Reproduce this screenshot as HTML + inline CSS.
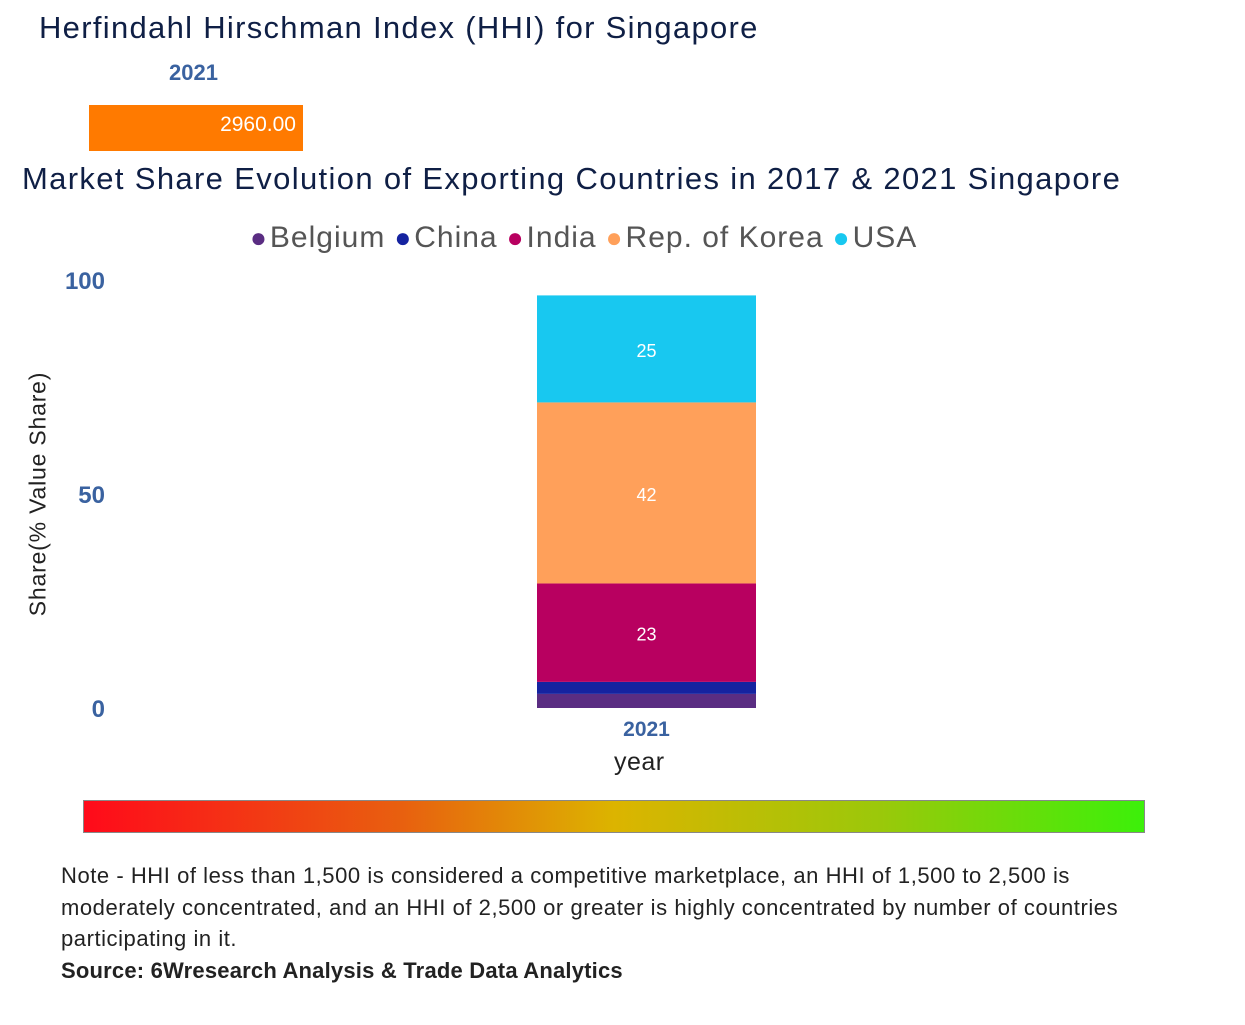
<!DOCTYPE html>
<html><head><meta charset="utf-8"><style>
body{margin:0;width:1245px;height:1025px;background:#fff;font-family:"Liberation Sans",sans-serif;position:relative;overflow:hidden}
.a{position:absolute}
</style></head><body>
<div class="a" style="left:39px;top:10px;font-size:31px;color:#0f1f45;letter-spacing:1.3px">Herfindahl Hirschman Index (HHI) for Singapore</div>
<div class="a" style="left:169px;top:60px;font-size:22px;font-weight:bold;color:#3a62a0">2021</div>
<div class="a" style="left:89px;top:105px;width:214px;height:46px;background:#ff7a00;color:#fff;font-size:21px;text-align:right;box-sizing:border-box;padding-right:7px;line-height:40px">2960.00</div>
<div class="a" style="left:22px;top:161px;font-size:31px;color:#0f1f45;letter-spacing:1.35px">Market Share Evolution of Exporting Countries in 2017 &amp; 2021 Singapore</div>
<div class="a" id="legend" style="left:250px;top:221px;font-size:30px;color:#555;white-space:nowrap;letter-spacing:1px"></div>
<div class="a" style="left:38px;top:494px;transform:translate(-50%,-50%) rotate(-90deg);font-size:23px;color:#222;white-space:nowrap;letter-spacing:0.8px">Share(% Value Share)</div>
<svg class="a" style="left:0;top:0" width="1245" height="800" id="chart"></svg>
<div class="a" style="left:614px;top:748px;font-size:25px;color:#222;letter-spacing:0.5px">year</div>
<div class="a" style="left:83px;top:800px;width:1060px;height:31px;border:1px solid #888;background:linear-gradient(to right,#ff0a1a,#e8600f 30%,#dcb400 50%,#9bc80a 75%,#3cf00a)"></div>
<div class="a" style="left:61px;top:860px;width:1110px;font-size:22px;line-height:31.5px;color:#222;letter-spacing:0.55px">Note - HHI of less than 1,500 is considered a competitive marketplace, an HHI of 1,500 to 2,500 is moderately concentrated, and an HHI of 2,500 or greater is highly concentrated by number of countries participating in it.<br><b style="letter-spacing:0.2px">Source: 6Wresearch Analysis &amp; Trade Data Analytics</b></div>
<script>
const categories=["2021"];
const countries=["Belgium","China","India","Rep. of Korea","USA"];
const colors=["#5a2d82","#1523a0","#b80060","#ffa05a","#18c8f0"];
const values=[[3.3],[2.8],[23],[42.3],[25]];
const labels=["","","23","42","25"];
const yTicks=[0,50,100];
const svg=document.getElementById('chart');
const NS='http://www.w3.org/2000/svg';
const y0=708,pxPer=4.28;
const y=v=>y0-v*pxPer;
const xLeft=537,bw=219;
const lg=document.getElementById('legend');
countries.forEach((c,i)=>{const s=document.createElement('span');


s.style.marginRight='9px';
s.innerHTML='<span style="color:'+colors[i]+';font-size:28px;margin-right:2px">●</span>'+c;lg.appendChild(s);});
yTicks.forEach(t=>{const tx=document.createElementNS(NS,'text');


tx.setAttribute('x',105);tx.setAttribute('y',y(t)+9);tx.setAttribute('text-anchor','end');
tx.setAttribute('font-size','24');tx.setAttribute('font-weight','bold');tx.setAttribute('fill','#3a62a0');tx.textContent=t;svg.appendChild(tx);});
categories.forEach((cat,ci)=>{let acc=0;
countries.forEach((c,i)=>{const v=values[i][ci];const r=document.createElementNS(NS,'rect');


r.setAttribute('x',xLeft);r.setAttribute('width',bw);r.setAttribute('y',y(acc+v));r.setAttribute('height',v*pxPer);r.setAttribute('fill',colors[i]);svg.appendChild(r);
if(labels[i]){const t=document.createElementNS(NS,'text');


t.setAttribute('x',xLeft+bw/2);t.setAttribute('y',y(acc+v/2)+8);t.setAttribute('text-anchor','middle');t.setAttribute('font-size','18');t.setAttribute('fill','#fff');t.textContent=labels[i];svg.appendChild(t);}
acc+=v;});
const xl=document.createElementNS(NS,'text');


xl.setAttribute('x',xLeft+bw/2);xl.setAttribute('y',736);xl.setAttribute('text-anchor','middle');xl.setAttribute('font-size','21');xl.setAttribute('font-weight','bold');xl.setAttribute('fill','#3a62a0');xl.textContent=cat;svg.appendChild(xl);});
</script>
</body></html>
